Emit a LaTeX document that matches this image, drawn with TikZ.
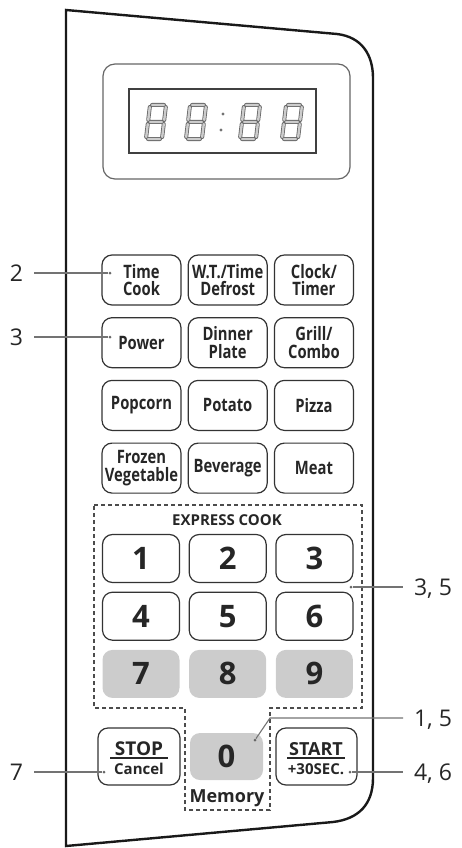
\documentclass[tikz,border=0pt]{standalone}
\usepackage{fontspec}
\setmainfont{Open Sans}
\newfontfamily\condfont[FakeStretch=0.8]{Open Sans}
\usetikzlibrary{positioning}

\begin{document}
\begin{tikzpicture}[x=1pt, y=-1pt, node distance=11.5pt and 6pt,
	panel/.style={draw=black!90, line width=2.4pt},
	keybtn/.style={draw=black!80, line width=1.2pt, rounded corners=10pt, minimum width=79pt, minimum height=50pt,
		inner sep=0pt, align=center, text=black!85, font=\condfont\bfseries\fontsize{18.5}{17.5}\selectfont},
	numkey/.style={keybtn, minimum width=77pt, minimum height=48pt, font=\bfseries\fontsize{31}{31}\selectfont},
	graykey/.style={numkey, draw=none, fill=black!20},
	callout/.style={inner sep=0pt, outer xsep=11pt, text height=16.4pt, text depth=0pt, text=black!85,
		font=\fontsize{23}{23}\selectfont},
	leader/.style={draw=black!55, line width=1.1pt},
	dot/.style={circle, fill=black!60, inner sep=0pt, minimum size=3pt},
	seg/.style={draw=black!60, line width=0.8pt, double=black!20, double distance=2.4pt, line cap=round},
	express/.style={draw=black!70, line width=1.1pt, dash pattern=on 4pt off 3pt},
	segeight/.pic={
		\draw[seg] (-6,-17) -- (6,-17) (-8,-15) -- (-8,-2) (8,-15) -- (8,-2) (-6,0) -- (6,0)
			(-8,2) -- (-8,15) (8,2) -- (8,15) (-6,17) -- (6,17);
	}]

\useasboundingbox (0,0) rectangle (462,848);

\draw[panel] (66,10) -- (337,34) .. controls (362,37) and (373,55) .. (373,78) -- (373,778)
	.. controls (373,805) and (358,819) .. (333,822) -- (66,846) -- cycle;

% display
\draw[draw=black!60, line width=1.2pt, rounded corners=12pt] (103,64) rectangle (350,179);
\draw[draw=black!75, line width=1.6pt] (129,89) rectangle (316,153);
\pic[xslant=0.12] at (156,122) {segeight};
\pic[xslant=0.12] at (196,122) {segeight};
\pic[xslant=0.12] at (250,122) {segeight};
\pic[xslant=0.12] at (292,122) {segeight};
\fill[black!55] (223,114) circle (1.6pt) (221,130) circle (1.6pt);

% function keys
\node[keybtn] (timecook) at (141.5,280) {Time\\Cook};
\node[keybtn, right=of timecook] (wtdefrost) {W.T./Time\\Defrost};
\node[keybtn, right=of wtdefrost] (clocktimer) {Clock/\\Timer};
\node[keybtn, below=of timecook] (power) {Power};
\node[keybtn, right=of power] (dinnerplate) {Dinner\\Plate};
\node[keybtn, right=of dinnerplate] (grillcombo) {Grill/\\Combo};
\node[keybtn, below=of power] (popcorn) {Popcorn};
\node[keybtn, right=of popcorn] (potato) {Potato};
\node[keybtn, right=of potato] (pizza) {Pizza};
\node[keybtn, below=of popcorn] (frozenveg) {Frozen\\Vegetable};
\node[keybtn, right=of frozenveg] (beverage) {Beverage};
\node[keybtn, right=of beverage] (meat) {Meat};

% number pad
\draw[express] (94,505) -- (362,505) -- (362,708) -- (270,708) -- (270,810) -- (185,810) -- (185,708) -- (94,708) -- cycle;
\node[font=\bfseries\fontsize{15}{15}\selectfont, text=black!85, anchor=base] (expresscook) at (227,525) {EXPRESS COOK};
\node[numkey] (key1) at (141,558.5) {1};
\node[numkey, right=8.5pt of key1] (key2) {2};
\node[numkey, right=8.5pt of key2] (key3) {3};
\node[numkey, below=8.5pt of key1] (key4) {4};
\node[numkey, right=8.5pt of key4] (key5) {5};
\node[numkey, right=8.5pt of key5] (key6) {6};
\node[graykey, below=8.5pt of key4] (key7) {7};
\node[graykey, right=8.5pt of key7] (key8) {8};
\node[graykey, right=8.5pt of key8] (key9) {9};
\node[graykey, minimum width=73pt, minimum height=47pt] (key0) at (226.5,756.5) {0};
\node[font=\bfseries\fontsize{18}{18}\selectfont, text=black!85, anchor=base] (memory) at (227,802) {Memory};

% stop / start
\node[keybtn, minimum width=82pt, minimum height=57pt] (stop) at (139,756.5) {};
\node[font=\bfseries\fontsize{19}{19}\selectfont, text=black!85, anchor=base] (stoptxt) at (139,755) {STOP};
\node[font=\bfseries\fontsize{15}{15}\selectfont, text=black!85, anchor=base] (canceltxt) at (139,774) {Cancel};
\draw[black!85, line width=1.3pt] (110,758) -- (168,758);
\node[keybtn, minimum width=81pt, minimum height=57pt] (start) at (316.5,756.5) {};
\node[font=\bfseries\fontsize{18}{18}\selectfont, text=black!85, anchor=base] (starttxt) at (316,755) {START};
\node[font=\bfseries\fontsize{15}{15}\selectfont, text=black!85, anchor=base] (plustxt) at (316,774) {+30SEC.};
\draw[black!85, line width=1.3pt] (287,758) -- (345,758);

% callouts
\node[dot] (d2) at (110,273) {};
\node[dot] (d3) at (110,337) {};
\node[dot] (d7) at (104,772) {};
\node[dot] (d35) at (351,587) {};
\node[dot] (d15) at (255,740) {};
\node[dot] (d46) at (350,772) {};
\node[callout, anchor=east] (l2) at (34,273) {2};
\node[callout, anchor=east] (l3) at (34,337) {3};
\node[callout, anchor=east] (l7) at (34,772) {7};
\node[callout, anchor=west] (l35) at (403,587) {3, 5};
\node[callout, anchor=west] (l15) at (403,718) {1, 5};
\node[callout, anchor=west] (l46) at (403,772) {4, 6};
\draw[leader] (l2.east) -- (d2);
\draw[leader] (l3.east) -- (d3);
\draw[leader] (l7.east) -- (d7);
\draw[leader] (d35) -- (l35.west);
\draw[leader] (d15) -- ++(15,-22) -- (l15.west);
\draw[leader] (d46) -- (l46.west);
\end{tikzpicture}
\end{document}
